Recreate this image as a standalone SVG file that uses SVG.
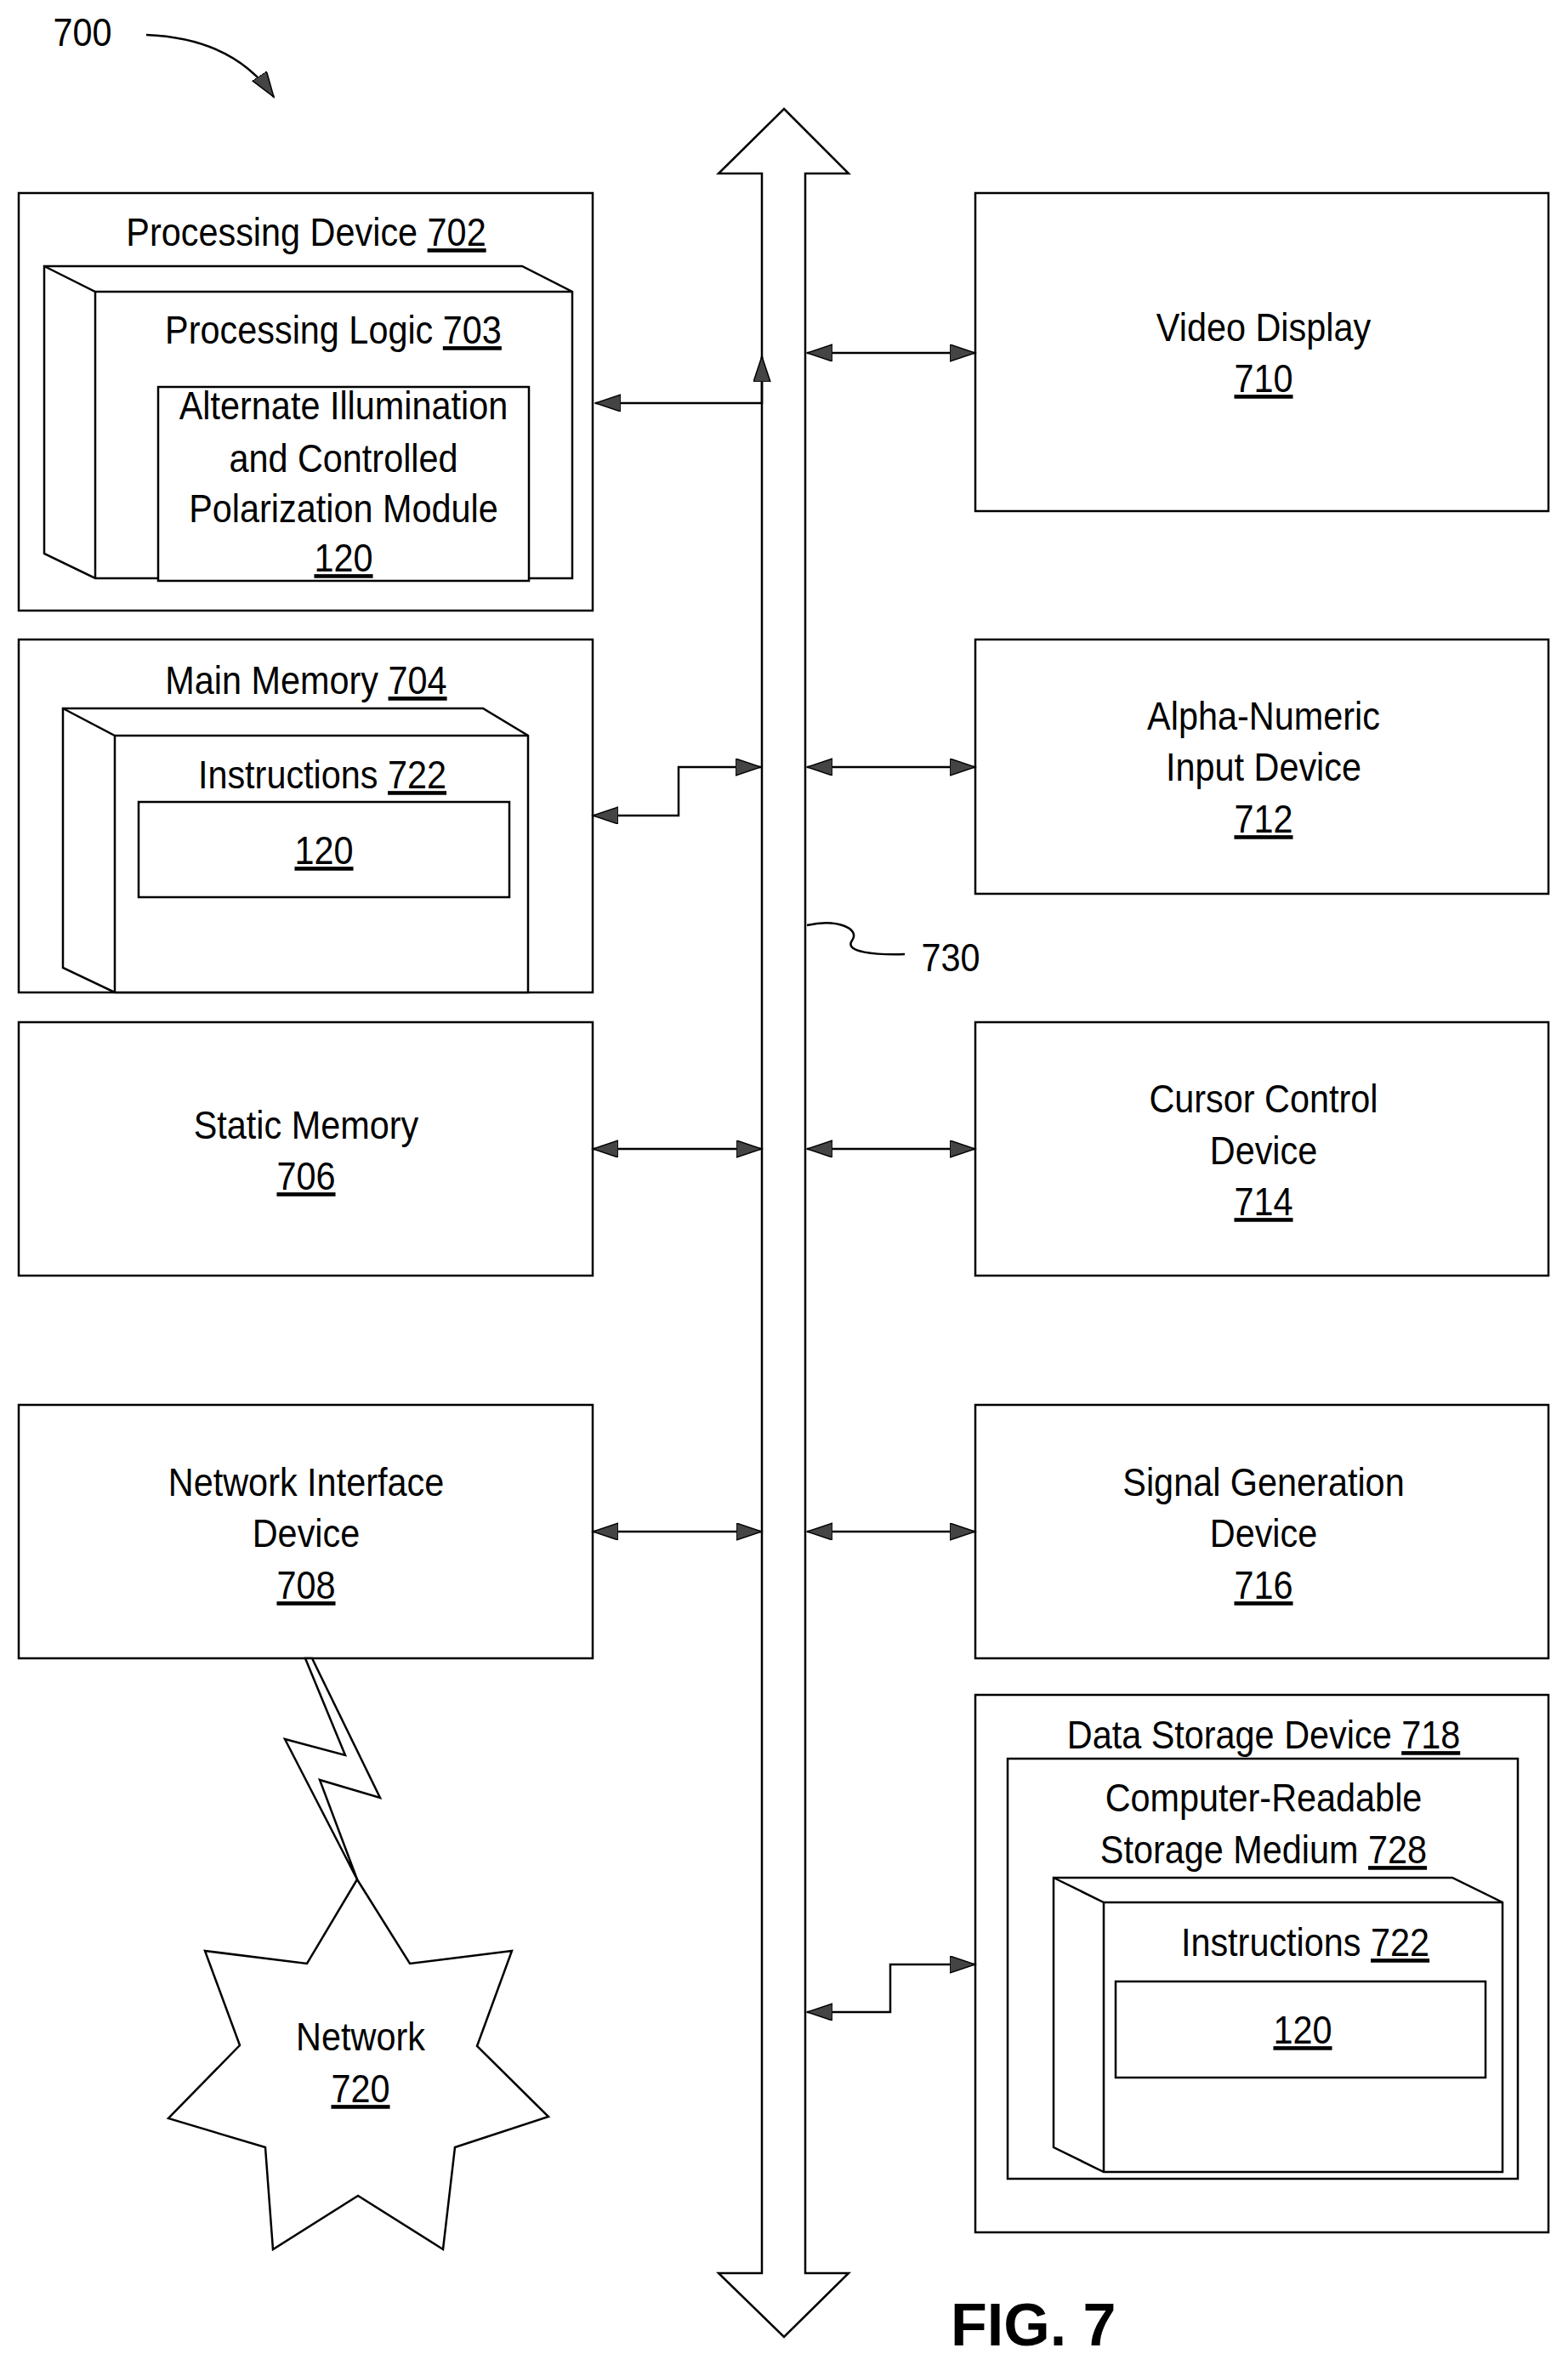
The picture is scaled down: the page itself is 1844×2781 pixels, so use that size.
<svg xmlns="http://www.w3.org/2000/svg" width="1844" height="2781" viewBox="0 0 1844 2781">
<style>
.b{fill:#fff;stroke:#000;stroke-width:2.5}
.l{fill:none;stroke:#000;stroke-width:2.5}
.c{fill:none;stroke:#000;stroke-width:2.5;marker-start:url(#ah);marker-end:url(#ah)}
text{font-family:"Liberation Sans",Arial,sans-serif;font-size:46px;text-anchor:middle;fill:#000;transform-box:fill-box;transform-origin:center;transform:scaleX(0.9)}
.u{text-decoration:underline}
text.fig{font-weight:bold;font-size:70px;text-anchor:start;transform:none}
</style>
<defs>
<marker id="ah" markerUnits="userSpaceOnUse" markerWidth="32" markerHeight="22" refX="30" refY="10" orient="auto-start-reverse" viewBox="0 0 32 22">
<path d="M0,0 L30,10 L0,20 Z" fill="#444" stroke="#000" stroke-width="1.5"/>
</marker>
<marker id="ah2" markerUnits="userSpaceOnUse" markerWidth="32" markerHeight="22" refX="30" refY="10" orient="auto" viewBox="0 0 32 22">
<path d="M0,0 L30,10 L0,20 Z" fill="#444" stroke="#000" stroke-width="1.5"/>
</marker>
</defs>
<rect width="1844" height="2781" fill="#fff"/>

<g id="label700">
<text x="97" y="54">700</text>
<path d="M172,41 Q275,45 322,114" class="l" marker-end="url(#ah2)"/>
</g>

<g id="bus730">
<polygon class="b" points="922,128 998,204 947,204 947,2673 998,2673 922,2748 845,2673 896,2673 896,204 845,204"/>
<path class="l" d="M949,1088 C985,1080 1012,1092 1002,1106 C992,1120 1030,1123 1064,1122"/>
<text x="1118" y="1142">730</text>
</g>

<g id="n702">
<rect class="b" x="22" y="227" width="675" height="491"/>
<text x="360" y="289">Processing Device <tspan class="u">702</tspan></text>
<polygon class="b" points="52,313 614,313 673,343 673,680 112,680 52,651"/>
<path class="l" d="M52,313 L112,343 L673,343 M112,343 L112,680"/>
<text x="392" y="404">Processing Logic <tspan class="u">703</tspan></text>
<rect class="b" x="186" y="455" width="436" height="228"/>
<text x="404" y="493">Alternate  Illumination</text>
<text x="404" y="555">and Controlled</text>
<text x="404" y="614">Polarization Module</text>
<text x="404" y="672" class="u">120</text>
</g>

<g id="n704">
<rect class="b" x="22" y="752" width="675" height="415"/>
<text x="360" y="816">Main Memory <tspan class="u">704</tspan></text>
<polygon class="b" points="74,833 568,833 621,865 621,1167 135,1167 74,1138"/>
<path class="l" d="M74,833 L135,865 L621,865 M135,865 L135,1167"/>
<text x="379" y="927">Instructions <tspan class="u">722</tspan></text>
<rect class="b" x="163" y="943" width="436" height="112"/>
<text x="381" y="1016" class="u">120</text>
</g>

<g id="n706">
<rect class="b" x="22" y="1202" width="675" height="298"/>
<text x="360" y="1339">Static Memory</text>
<text x="360" y="1399" class="u">706</text>
</g>

<g id="n708">
<rect class="b" x="22" y="1652" width="675" height="298"/>
<text x="360" y="1759">Network Interface</text>
<text x="360" y="1819">Device</text>
<text x="360" y="1880" class="u">708</text>
</g>

<g id="n710">
<rect class="b" x="1147" y="227" width="674" height="374"/>
<text x="1486" y="401">Video Display</text>
<text x="1486" y="461" class="u">710</text>
</g>

<g id="n712">
<rect class="b" x="1147" y="752" width="674" height="299"/>
<text x="1486" y="858">Alpha-Numeric</text>
<text x="1486" y="918">Input Device</text>
<text x="1486" y="979" class="u">712</text>
</g>

<g id="n714">
<rect class="b" x="1147" y="1202" width="674" height="298"/>
<text x="1486" y="1308">Cursor Control</text>
<text x="1486" y="1369">Device</text>
<text x="1486" y="1429" class="u">714</text>
</g>

<g id="n716">
<rect class="b" x="1147" y="1652" width="674" height="298"/>
<text x="1486" y="1759">Signal Generation</text>
<text x="1486" y="1819">Device</text>
<text x="1486" y="1880" class="u">716</text>
</g>

<g id="n718">
<rect class="b" x="1147" y="1993" width="674" height="632"/>
<text x="1486" y="2056">Data Storage Device <tspan class="u">718</tspan></text>
<rect class="b" x="1185" y="2068" width="600" height="494"/>
<text x="1486" y="2130">Computer-Readable</text>
<text x="1486" y="2191">Storage Medium <tspan class="u">728</tspan></text>
<polygon class="b" points="1239,2208 1708,2208 1767,2237 1767,2554 1298,2554 1239,2525"/>
<path class="l" d="M1239,2208 L1298,2237 L1767,2237 M1298,2237 L1298,2554"/>
<text x="1535" y="2300">Instructions <tspan class="u">722</tspan></text>
<rect class="b" x="1312" y="2330" width="435" height="113"/>
<text x="1532" y="2403" class="u">120</text>
</g>

<g id="n720">
<polygon class="b" points="359,1950 406,2064 335,2045 420,2210 376,2093 447,2114 367,1950"/>
<polygon class="b" points="420,2210 482,2309 602,2294 561,2406 645,2489 535,2525 521,2645 421,2582 321,2645 312,2525 198,2491 282,2405 241,2294 361,2309"/>
<text x="424" y="2411">Network</text>
<text x="424" y="2472" class="u">720</text>
</g>

<g id="connectors">
<polyline class="c" points="700,474 896,474 896,419"/>
<line class="c" x1="949" y1="415" x2="1147" y2="415"/>
<polyline class="c" points="697,959 798,959 798,902 895,902"/>
<line class="c" x1="949" y1="902" x2="1147" y2="902"/>
<line class="c" x1="697" y1="1351" x2="896" y2="1351"/>
<line class="c" x1="949" y1="1351" x2="1147" y2="1351"/>
<line class="c" x1="697" y1="1801" x2="896" y2="1801"/>
<line class="c" x1="949" y1="1801" x2="1147" y2="1801"/>
<polyline class="c" points="949,2366 1047,2366 1047,2310 1147,2310"/>
</g>

<text class="fig" x="1118" y="2758">FIG. 7</text>
</svg>
